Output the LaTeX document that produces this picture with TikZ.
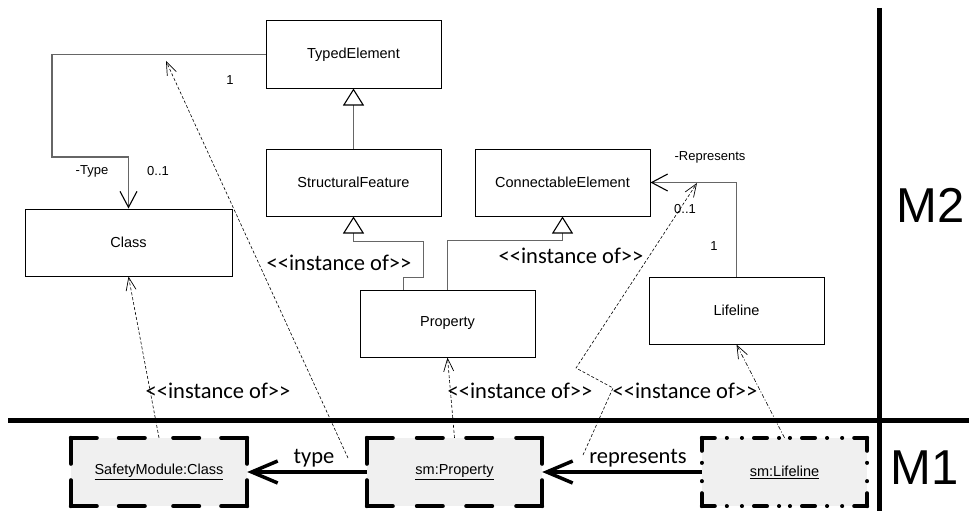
\documentclass[tikz,border=0pt]{standalone}
\usepackage{fontspec}
\setmainfont{Liberation Sans}
\newfontfamily\calfont{Carlito}
\usetikzlibrary{arrows.meta,calc}
% dashed frame of an instance box, every side dashed from its two corners inwards
\newcommand\instborder[2]{%
  \foreach \ca/\cb in {north west/north,north east/north,north east/east,south east/east,
      south east/south,south west/south,south west/west,north west/west}{%
    \draw[line width=4pt,line cap=round,dash pattern=#2] (#1.\ca) -- (#1.\cb);}}
\begin{document}
\begin{tikzpicture}[x=1pt,y=-1pt,
  box/.style={draw=black,line width=1pt,fill=white,rectangle,minimum width=175pt,minimum height=67pt,
    font=\fontsize{14.5}{17}\selectfont,inner sep=0pt},
  inst/.style={fill=gray!12,rectangle,minimum width=175pt,minimum height=68pt,
    font=\fontsize{14.5}{17}\selectfont,inner sep=0pt},
  assoc/.style={draw=black!60,line width=1.1pt,-{Straight Barb[length=16pt,width=17pt,line width=1.1pt,color=black]}},
  gen/.style={draw=black!60,line width=1.1pt,-{Triangle[open,length=17pt,width=21pt,line width=1.1pt,color=black,fill=white]}},
  instof/.style={draw=black,line width=0.6pt,dash pattern=on 3pt off 2pt,-{Straight Barb[length=13pt,width=10pt,line width=0.7pt]}},
  link/.style={draw=black,line width=3.5pt,-{Straight Barb[length=26pt,width=22pt,line width=3.5pt]}},
  small/.style={font=\fontsize{13}{15}\selectfont,inner sep=0pt},
  stereo/.style={font=\calfont\fontsize{22.5}{26}\selectfont,inner sep=0pt},
  sep/.style={draw=black,line width=5pt},
  level/.style={font=\fontsize{49}{55}\selectfont,inner sep=0pt}]
\useasboundingbox[fill=white] (0,0) rectangle (969,511);

% metamodel classes (M2)
\node[box] (te) at (353.5,54.5) {TypedElement};
\node[box] (sf) at (353.5,182.5) {StructuralFeature};
\node[box] (ce) at (562.5,182.5) {ConnectableElement};
\node[box,minimum width=207pt] (cls) at (128.5,242.5) {Class};
\node[box] (prop) at (447.5,323.5) {Property};
\node[box] (life) at (736.5,310.5) {Lifeline};

% model instances (M1)
\node[inst,minimum width=176pt] (smc) at (159,472) {\underline{SafetyModule:Class}};
\node[inst] (smp) at (454.5,472) {\underline{sm:Property}};
\node[inst,minimum width=165pt] (sml) at (784.5,472) {\underline{sm:Lifeline}};
\instborder{smc}{on 26pt off 22pt}
\instborder{smp}{on 26pt off 24pt on 26pt off 22pt on 0.1pt off 22pt}
\instborder{sml}{on 13pt off 12pt on 0.1pt off 15pt on 0.1pt off 12pt}

% associations
\draw[assoc] (te.west) -- (52,54.5) -- (52,157) -- (cls.north |- 0,157) -- (cls.north);
\draw[assoc] (life.north) |- (ce.east);

% generalizations
\draw[gen] (sf.north) -- (te.south);
\draw[gen] ($(prop.north west)+(44,0)$) -- ++(0,-12) -- ++(20,0) -- ++(0,-36) -| (sf.south);
\draw[gen] (prop.north) -- ++(0,-49) -| (ce.south);

% multiplicities and role names
\node[small] (l1) at (92,171) {-Type};
\node[small] (l2) at (158,171) {0..1};
\node[small] (l3) at (230,80) {1};
\node[small] (l4) at (710,157) {-Represents};
\node[small] (l5) at (685,209) {0..1};
\node[small] (l6) at (714,246) {1};

% links between instances
\draw[link] (smp.west) -- (smc.east);
\draw[link] (sml.west) -- (smp.east);
\node[stereo] (ltype) at (314,458) {type};
\node[stereo] (lrep) at (638,458) {represents};

% instance-of dependencies
\coordinate (typept) at (348,458);
\coordinate (typeassoc) at (166,61);
\coordinate (reppt) at (583,455);
\coordinate (repassoc) at (697,183);
\draw[instof] (smc.north) -- (cls.south);
\draw[instof] (typept) -- (typeassoc);
\draw[instof] (smp.north) -- (prop.south);
\draw[instof] (reppt) -- (613,388) -- (576,368) -- (repassoc);
\draw[instof,dash pattern=on 4pt off 2pt on 1pt off 2pt] (sml.north) -- (life.south);

\node[stereo] (s1) at (339,263) {<\kern0pt<instance of>\kern0pt>};
\node[stereo] (s2) at (571,256) {<\kern0pt<instance of>\kern0pt>};
\node[stereo] (s3) at (218,391) {<\kern0pt<instance of>\kern0pt>};
\node[stereo] (s4) at (520,391) {<\kern0pt<instance of>\kern0pt>};
\node[stereo] (s5) at (685,391) {<\kern0pt<instance of>\kern0pt>};

% level separators
\draw[sep] (8,420) -- (969,420);
\draw[sep] (879,8) -- (879,511);
\node[level] (m2) at (931,205) {M2};
\node[level] (m1) at (925,468) {M1};
\end{tikzpicture}
\end{document}
